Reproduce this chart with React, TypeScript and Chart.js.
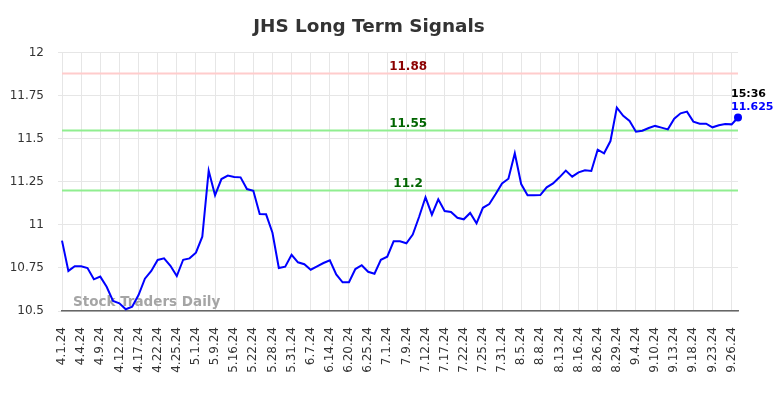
import React, { useEffect, useRef } from "react";
import { Chart, registerables } from "chart.js";

Chart.register(...registerables);

const chartTitle = "JHS Long Term Signals";

const dates = [
  "4.1.24", "4.2.24", "4.3.24", "4.4.24", "4.5.24", "4.8.24", "4.9.24", "4.10.24", "4.11.24",
  "4.12.24", "4.15.24", "4.16.24", "4.17.24", "4.18.24", "4.19.24", "4.22.24", "4.23.24", "4.24.24",
  "4.25.24", "4.26.24", "4.29.24", "5.1.24", "5.2.24", "5.3.24", "5.9.24", "5.10.24", "5.13.24",
  "5.16.24", "5.17.24", "5.20.24", "5.22.24", "5.23.24", "5.24.24", "5.28.24", "5.29.24", "5.30.24",
  "5.31.24", "6.3.24", "6.4.24", "6.7.24", "6.10.24", "6.11.24", "6.14.24", "6.17.24", "6.18.24",
  "6.20.24", "6.21.24", "6.24.24", "6.25.24", "6.26.24", "6.27.24", "7.1.24", "7.2.24", "7.3.24",
  "7.9.24", "7.10.24", "7.11.24", "7.12.24", "7.15.24", "7.16.24", "7.17.24", "7.18.24", "7.19.24",
  "7.22.24", "7.23.24", "7.24.24", "7.25.24", "7.26.24", "7.29.24", "7.31.24", "8.1.24", "8.2.24",
  "8.5.24", "8.6.24", "8.7.24", "8.8.24", "8.9.24", "8.12.24", "8.13.24", "8.14.24", "8.15.24",
  "8.16.24", "8.19.24", "8.20.24", "8.26.24", "8.27.24", "8.28.24", "8.29.24", "8.30.24", "9.3.24",
  "9.4.24", "9.5.24", "9.6.24", "9.10.24", "9.11.24", "9.12.24", "9.13.24", "9.16.24", "9.17.24",
  "9.18.24", "9.19.24", "9.20.24", "9.23.24", "9.24.24", "9.25.24", "9.26.24", "9.27.24",
];

const prices = [
  10.909, 10.733, 10.76, 10.76, 10.75, 10.684, 10.70, 10.641, 10.558,
  10.545, 10.51, 10.525, 10.593, 10.688, 10.733, 10.797, 10.806, 10.763,
  10.703, 10.798, 10.806, 10.839, 10.932, 11.316, 11.173, 11.267, 11.287,
  11.279, 11.277, 11.209, 11.199, 11.064, 11.062, 10.955, 10.75, 10.758,
  10.827, 10.783, 10.772, 10.74, 10.76, 10.779, 10.795, 10.713, 10.667,
  10.667, 10.744, 10.766, 10.728, 10.717, 10.798, 10.816, 10.905, 10.905,
  10.894, 10.944, 11.048, 11.161, 11.06, 11.149, 11.081, 11.076, 11.042,
  11.033, 11.07, 11.01, 11.10, 11.122, 11.18, 11.242, 11.269, 11.417,
  11.238, 11.173, 11.173, 11.174, 11.219, 11.242, 11.277, 11.316, 11.281,
  11.306, 11.318, 11.314, 11.438, 11.417, 11.488, 11.682, 11.635, 11.605,
  11.542, 11.548, 11.564, 11.576, 11.566, 11.556, 11.618, 11.649, 11.659,
  11.601, 11.589, 11.589, 11.568, 11.58, 11.587, 11.585, 11.625,
];

const yMin = 10.5;
const yMax = 12;
const yStep = 0.25;
const tickEvery = 3;

const signalLevels = [11.88, 11.55, 11.2];
const signalLabels = ["11.88", "11.55", "11.2"];
const lastTime = "15:36";
const lastValueLabel = "11.625";
const watermark = "Stock Traders Daily";

const FONT = '"DejaVu Sans", sans-serif';

const overlayPlugin = {
  id: "overlay",
  beforeDatasetsDraw(chart: any) {
    const { ctx, chartArea, scales } = chart;
    const { left, right, bottom } = chartArea;
    const y = scales.y;
    const lineColors = ["#ffcccc", "#90ee90", "#90ee90"];
    const textColors = ["#8b0000", "#006400", "#006400"];
    ctx.save();
    signalLevels.forEach((v, i) => {
      const py = y.getPixelForValue(v);
      ctx.strokeStyle = lineColors[i];
      ctx.lineWidth = 2;
      ctx.beginPath();
      ctx.moveTo(left, py);
      ctx.lineTo(right, py);
      ctx.stroke();
      ctx.fillStyle = textColors[i];
      ctx.font = "bold 12px " + FONT;
      ctx.textAlign = "center";
      ctx.textBaseline = "middle";
      ctx.fillText(signalLabels[i], left + (right - left) * 0.512, py - 7);
    });
    ctx.font = "bold 13.5px " + FONT;
    ctx.fillStyle = "rgba(160,160,160,0.95)";
    ctx.textAlign = "left";
    ctx.textBaseline = "middle";
    ctx.fillText(watermark, left + 11, bottom - 9);
    ctx.restore();
  },
  afterDatasetsDraw(chart: any) {
    const { ctx, scales } = chart;
    const last = prices.length - 1;
    const px = scales.x.getPixelForValue(last);
    const py = scales.y.getPixelForValue(prices[last]);
    ctx.save();
    ctx.textAlign = "left";
    ctx.textBaseline = "middle";
    ctx.font = "bold 11px " + FONT;
    ctx.fillStyle = "#000000";
    ctx.fillText(lastTime, px - 7, py - 23.5);
    ctx.fillStyle = "#0000ff";
    ctx.fillText(lastValueLabel, px - 7, py - 10);
    ctx.restore();
  },
};

export default function App() {
  const canvasRef = useRef<HTMLCanvasElement | null>(null);

  useEffect(() => {
    if (!canvasRef.current) return;
    Chart.defaults.font.family = FONT;
    const chart = new Chart(canvasRef.current, {
      type: "line",
      data: {
        labels: dates,
        datasets: [
          {
            data: prices,
            borderColor: "#0000ff",
            backgroundColor: "#0000ff",
            borderWidth: 2,
            tension: 0,
            fill: false,
            pointRadius: (c: any) => (c.dataIndex === prices.length - 1 ? 4 : 0),
            pointBackgroundColor: "#0000ff",
            pointBorderWidth: 0,
            clip: false as any,
          },
        ],
      },
      options: {
        animation: false,
        responsive: true,
        maintainAspectRatio: false,
        layout: { padding: { left: 0, right: 46, top: 0, bottom: 0 } },
        plugins: {
          legend: { display: false },
          tooltip: { enabled: false },
          title: {
            display: true,
            text: chartTitle,
            color: "#333333",
            font: { family: FONT, size: 18.4, weight: "bold" },
            padding: { top: 16, bottom: 14.9 },
          },
        },
        scales: {
          x: {
            grid: { color: "#e6e6e6", drawTicks: false },
            border: { color: "#666666", width: 1.5 },
            ticks: {
              autoSkip: false,
              maxRotation: 90,
              minRotation: 90,
              padding: 16,
              color: "#333333",
              font: { family: FONT, size: 12 },
            },
            afterBuildTicks: (scale: any) => {
              scale.ticks = scale.ticks.filter((t: any) => t.value % tickEvery === 0);
            },
            afterFit: (scale: any) => {
              scale.height = 87;
            },
          },
          y: {
            min: yMin,
            max: yMax,
            grid: { color: "#e6e6e6", tickLength: 4 },
            border: { display: false },
            ticks: {
              stepSize: yStep,
              padding: 14,
              color: "#333333",
              font: { family: FONT, size: 12 },
              callback: (value: any) => String(Number(value)),
            },
            afterFit: (scale: any) => {
              scale.width = 62;
            },
          },
        },
      },
      plugins: [overlayPlugin],
    });
    return () => chart.destroy();
  }, []);

  return (
    <div style={{ position: "absolute", left: 0, top: 0, width: 784, height: 398, background: "#ffffff" }}>
      <canvas ref={canvasRef} />
    </div>
  );
}
